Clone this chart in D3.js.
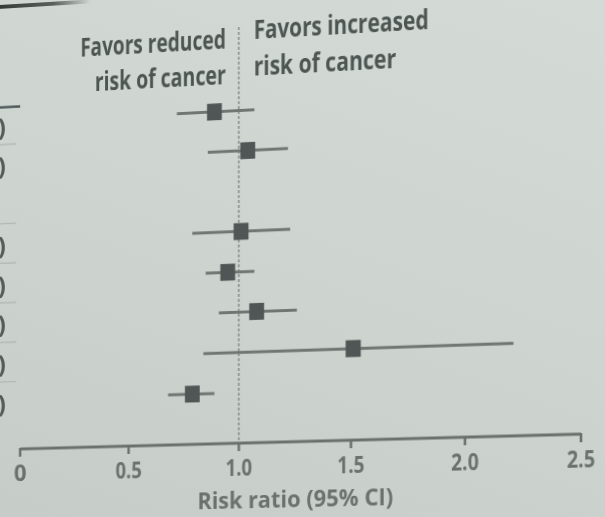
<!DOCTYPE html>
<html>
<head>
<meta charset="utf-8">
<script src="https://cdn.jsdelivr.net/npm/d3@7"></script>
<style>
  html, body { margin: 0; padding: 0; }
  body {
    width: 605px; height: 517px; overflow: hidden;
    background: linear-gradient(200deg, #d4dbd7 0%, #cdd4cf 55%, #c6cdc8 100%);
  }
  #chart { position: absolute; left: 0; top: 0; overflow: visible; transform-origin: 0 0; }
  text { font-family: "Open Sans", "Noto Sans", "DejaVu Sans", sans-serif; font-weight: 700; }
</style>
</head>
<body>
<svg id="chart" width="605" height="517"></svg>
<script>
// --- data ---
const tickValues = [0, 0.5, 1.0, 1.5, 2.0, 2.5];
const tickLabels = ["0", "0.5", "1.0", "1.5", "2.0", "2.5"];
const rowSlots   = [0, 1, 3, 4, 5, 6, 7];          // row 2 is a group header in the cut-off table
const estimates  = [0.89, 1.04, 1.01, 0.95, 1.08, 1.51, 0.79];
const lowerCI    = [0.72, 0.86, 0.79, 0.85, 0.91, 0.84, 0.68];
const upperCI    = [1.07, 1.22, 1.23, 1.07, 1.26, 2.21, 0.89];
const separatorSlots = [0.5, 2.5, 3.5, 4.5, 5.5, 6.5];
const leftLabel  = ["Favors reduced", "risk of cancer"];
const rightLabel = ["Favors increased", "risk of cancer"];
const axisTitle  = "Risk ratio (95% CI)";

// --- layout in the flat (un-photographed) frame ---
const axisY = 449;
const x = d3.scaleLinear().domain([0, 2.5]).range([22, 583]);
const y = d3.scaleLinear().domain([0, 7]).range([112.6, 397.9]);

// the print face is a condensed sans; squeeze a normal sans to its width
function squeeze(sel, w) {
  if (w) sel.attr("textLength", w).attr("lengthAdjust", "spacingAndGlyphs");
  return sel;
}

const svg = d3.select("#chart");
const defs = svg.append("defs");
defs.append("filter").attr("id", "soft")
  .attr("x", "-5%").attr("y", "-5%").attr("width", "110%").attr("height", "110%")
  .append("feGaussianBlur").attr("stdDeviation", 0.7);
const fade = defs.append("linearGradient").attr("id", "fade")
  .attr("gradientUnits", "userSpaceOnUse").attr("x1", 0).attr("x2", 95).attr("y1", 0).attr("y2", 0);
fade.append("stop").attr("offset", 0).attr("stop-color", "#353a38");
fade.append("stop").attr("offset", 0.6).attr("stop-color", "#5a605d");
fade.append("stop").attr("offset", 1).attr("stop-color", "#5a605d").attr("stop-opacity", 0);

const g = svg.append("g").attr("filter", "url(#soft)");

// border of the figure box, top-left
g.append("line").attr("x1", -10).attr("x2", 95).attr("y1", -7).attr("y2", -7)
  .attr("stroke", "url(#fade)").attr("stroke-width", 4);

// cut-off table on the left
g.append("line").attr("x1", -10).attr("x2", 22).attr("y1", y(0) - 16).attr("y2", y(0) - 16)
  .attr("stroke", "#50575a").attr("stroke-width", 2.5);
g.selectAll(".sep").data(separatorSlots).join("line")
  .attr("x1", -10).attr("x2", 18)
  .attr("y1", d => y(d) + 2).attr("y2", d => y(d) + 2)
  .attr("stroke", "#b0b7b3").attr("stroke-width", 1.3);
g.selectAll(".paren").data(rowSlots).join("text")
  .attr("x", 7).attr("y", d => y(d) + 13)
  .attr("text-anchor", "end").attr("font-size", 25).attr("fill", "#555c59")
  .text(")");

// reference line at 1.0
g.append("line").attr("x1", x(1)).attr("x2", x(1)).attr("y1", 28).attr("y2", axisY)
  .attr("stroke", "#7d8481").attr("stroke-width", 1.4).attr("stroke-dasharray", "3,2");

// header labels
const leftW = [149, 134], rightW = [174, 142];
leftLabel.forEach((t, i) => squeeze(g.append("text")
  .attr("x", x(1) - 162 + (i ? 15 : 0)).attr("y", 49 + i * 35.6)
  .attr("font-size", 27).attr("fill", "#4e5552").text(t), leftW[i]));
rightLabel.forEach((t, i) => squeeze(g.append("text")
  .attr("x", x(1) + 15).attr("y", 41 + i * 37)
  .attr("font-size", 27).attr("fill", "#4e5552").text(t), rightW[i]));

// confidence intervals and point estimates
const rows = rowSlots.map((s, i) => ({ slot: s, est: estimates[i], lo: lowerCI[i], hi: upperCI[i] }));
g.selectAll(".ci").data(rows).join("line")
  .attr("x1", d => x(d.lo)).attr("x2", d => x(d.hi))
  .attr("y1", d => y(d.slot)).attr("y2", d => y(d.slot))
  .attr("stroke", "#6f7673").attr("stroke-width", 3);
const sq = 15;
g.selectAll(".pt").data(rows).join("rect")
  .attr("x", d => x(d.est) - sq / 2).attr("y", d => y(d.slot) - sq / 2 - 1)
  .attr("width", sq).attr("height", sq + 2)
  .attr("fill", "#4f5754");

// x axis
const axis = g.append("g").attr("transform", `translate(0,${axisY})`);
axis.append("line").attr("x1", x(0)).attr("x2", x(2.5))
  .attr("stroke", "#6a716d").attr("stroke-width", 3);
axis.selectAll(".tick").data(tickValues).join("line")
  .attr("x1", d => x(d)).attr("x2", d => x(d)).attr("y1", -1).attr("y2", 8)
  .attr("stroke", "#6a716d").attr("stroke-width", 2.5);
axis.selectAll(".lbl").data(tickValues).join("text")
  .attr("x", d => x(d)).attr("y", 33)
  .attr("text-anchor", "middle").attr("font-size", 23)
  .attr("fill", "#6a716e")
  .text((d, i) => tickLabels[i])
  .each(function (d, i) { if (tickLabels[i].length > 1) squeeze(d3.select(this), 27); });
squeeze(axis.append("text").attr("x", (x(0) + x(2.5)) / 2).attr("y", 66)
  .attr("text-anchor", "middle").attr("font-size", 23).attr("fill", "#6a716e")
  .text(axisTitle), 196);

// --- photo perspective: map the flat frame onto the tilted page ---
function homography(src, dst) {
  const A = [], B = [];
  for (let i = 0; i < 4; i++) {
    const [sx, sy] = src[i], [u, v] = dst[i];
    A.push([sx, sy, 1, 0, 0, 0, -u * sx, -u * sy]); B.push(u);
    A.push([0, 0, 0, sx, sy, 1, -v * sx, -v * sy]); B.push(v);
  }
  const n = 8;
  for (let c = 0; c < n; c++) {
    let p = c;
    for (let r = c + 1; r < n; r++) if (Math.abs(A[r][c]) > Math.abs(A[p][c])) p = r;
    [A[c], A[p]] = [A[p], A[c]]; [B[c], B[p]] = [B[p], B[c]];
    for (let r = 0; r < n; r++) {
      if (r === c) continue;
      const f = A[r][c] / A[c][c];
      for (let k = c; k < n; k++) A[r][k] -= f * A[c][k];
      B[r] -= f * B[c];
    }
  }
  return B.map((b, i) => b / A[i][i]);
}
const src = [[x(0.5), 40], [x(2.0), 40], [x(0.5), axisY], [x(2.0), axisY]];
const dst = [[128.6, 45.2], [465, 26.0], [128.6, 446.1], [465, 437.2]];
const h = homography(src, dst);
document.getElementById("chart").style.transform =
  `matrix3d(${h[0]},${h[3]},0,${h[6]},${h[1]},${h[4]},0,${h[7]},0,0,1,0,${h[2]},${h[5]},0,1)`;
</script>
</body>
</html>
